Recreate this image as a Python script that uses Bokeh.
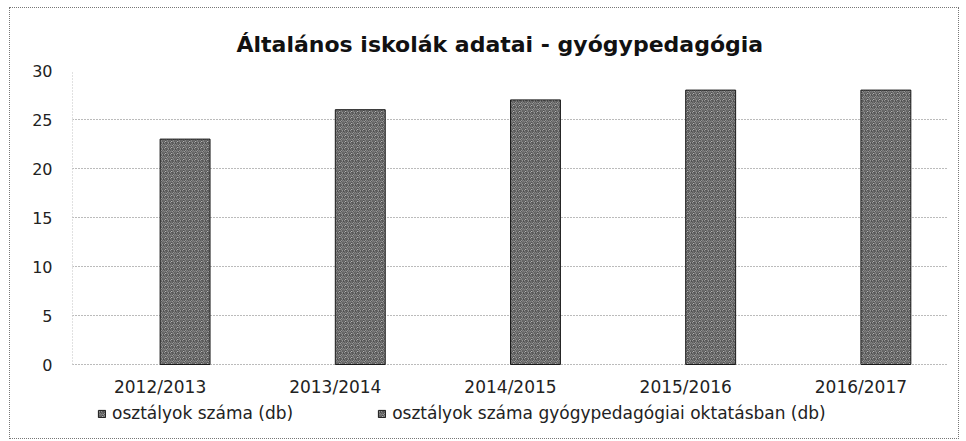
from bokeh.plotting import figure
from bokeh.models import FactorRange, ColumnDataSource, Legend, LegendItem, Range1d, FixedTicker
from bokeh.transform import dodge
from bokeh.core.properties import value
from bokeh.embed import file_html
from bokeh.resources import INLINE

years = ["2012/2013", "2013/2014", "2014/2015", "2015/2016", "2016/2017"]
osztalyok = [float("nan")] * 5  # not drawn in the original
gyogyped = [23, 26, 27, 28, 28]
series_names = ["osztályok száma (db)", "osztályok száma gyógypedagógiai oktatásban (db)"]
y_ticks = [0, 5, 10, 15, 20, 25, 30]

src = ColumnDataSource(dict(x=years, a=osztalyok, b=gyogyped, zero=[0] * 5))

# frame: 30 units over 294 px; extra room below zero holds category labels + legend
PX_PER_UNIT = 294 / 30
FRAME_H = 368
y_start = 30 - FRAME_H / PX_PER_UNIT

p = figure(x_range=FactorRange(*years, range_padding=0), y_range=Range1d(y_start, 30),
           width=950, height=432, output_backend="svg", toolbar_location=None,
           min_border_left=62, min_border_right=12, min_border_top=62, min_border_bottom=2,
           title="Általános iskolák adatai - gyógypedagógia")
p.styles = {"border": "1px dotted #777", "margin-left": "9px", "margin-top": "7px"}
p.outline_line_color = None
p.background_fill_color = "white"

p.title.align = "left"
p.title.offset = 164
p.title.text_font = "DejaVu Sans"
p.title.text_font_size = "22px"
p.title.text_font_style = "bold"
p.title.text_color = "#111"
p.title.standoff = 27

bar_kw = dict(width=0.285, fill_color="#c8c8c8", line_color="#1a1a1a", line_width=1,
              hatch_pattern="spiral", hatch_color="#1a1a1a", hatch_scale=6, hatch_weight=1)
ra = p.vbar(x=dodge("x", -0.1425, range=p.x_range), top="a", source=src, **bar_kw)
rb = p.vbar(x=dodge("x", 0.1425, range=p.x_range), top="b", source=src, **bar_kw)

# left axis line (dotted) only over the value range
edge = ColumnDataSource(dict(x=[years[0]], y0=[y_ticks[0]], y1=[y_ticks[-1]]))
p.segment(x0=dodge("x", -0.5, range=p.x_range), x1=dodge("x", -0.5, range=p.x_range),
          y0="y0", y1="y1", source=edge, line_color="#888", line_dash="1 2", line_width=1)

# category labels under the zero line
p.text(x="x", y="zero", text="x", source=src, y_offset=22,
       text_font=value("DejaVu Sans"), text_font_size="17px", text_color="#222",
       text_align="center", text_baseline="middle")

p.xaxis.visible = False
p.yaxis.ticker = FixedTicker(ticks=y_ticks)
ya = p.yaxis[0]
ya.axis_line_color = None
ya.major_tick_line_color = None
ya.minor_tick_line_color = None
ya.major_tick_out = 0
ya.major_tick_in = 0
ya.major_label_text_font = "DejaVu Sans"
ya.major_label_text_font_size = "16px"
ya.major_label_text_color = "#222"
ya.major_label_standoff = 20

p.xgrid.grid_line_color = None
p.ygrid.grid_line_color = "#777"
p.ygrid.grid_line_dash = "1 2"

legend = Legend(items=[LegendItem(label=series_names[0], renderers=[ra]),
                       LegendItem(label=series_names[1], renderers=[rb])],
                orientation="horizontal", location=(25, 15),
                label_text_font="DejaVu Sans", label_text_font_size="17px",
                label_text_color="#222", glyph_width=9, glyph_height=9,
                spacing=84, border_line_color=None, background_fill_alpha=0,
                padding=0, margin=0, label_standoff=6)
p.add_layout(legend, "center")

open("out.html", "w").write(file_html(p, INLINE))
